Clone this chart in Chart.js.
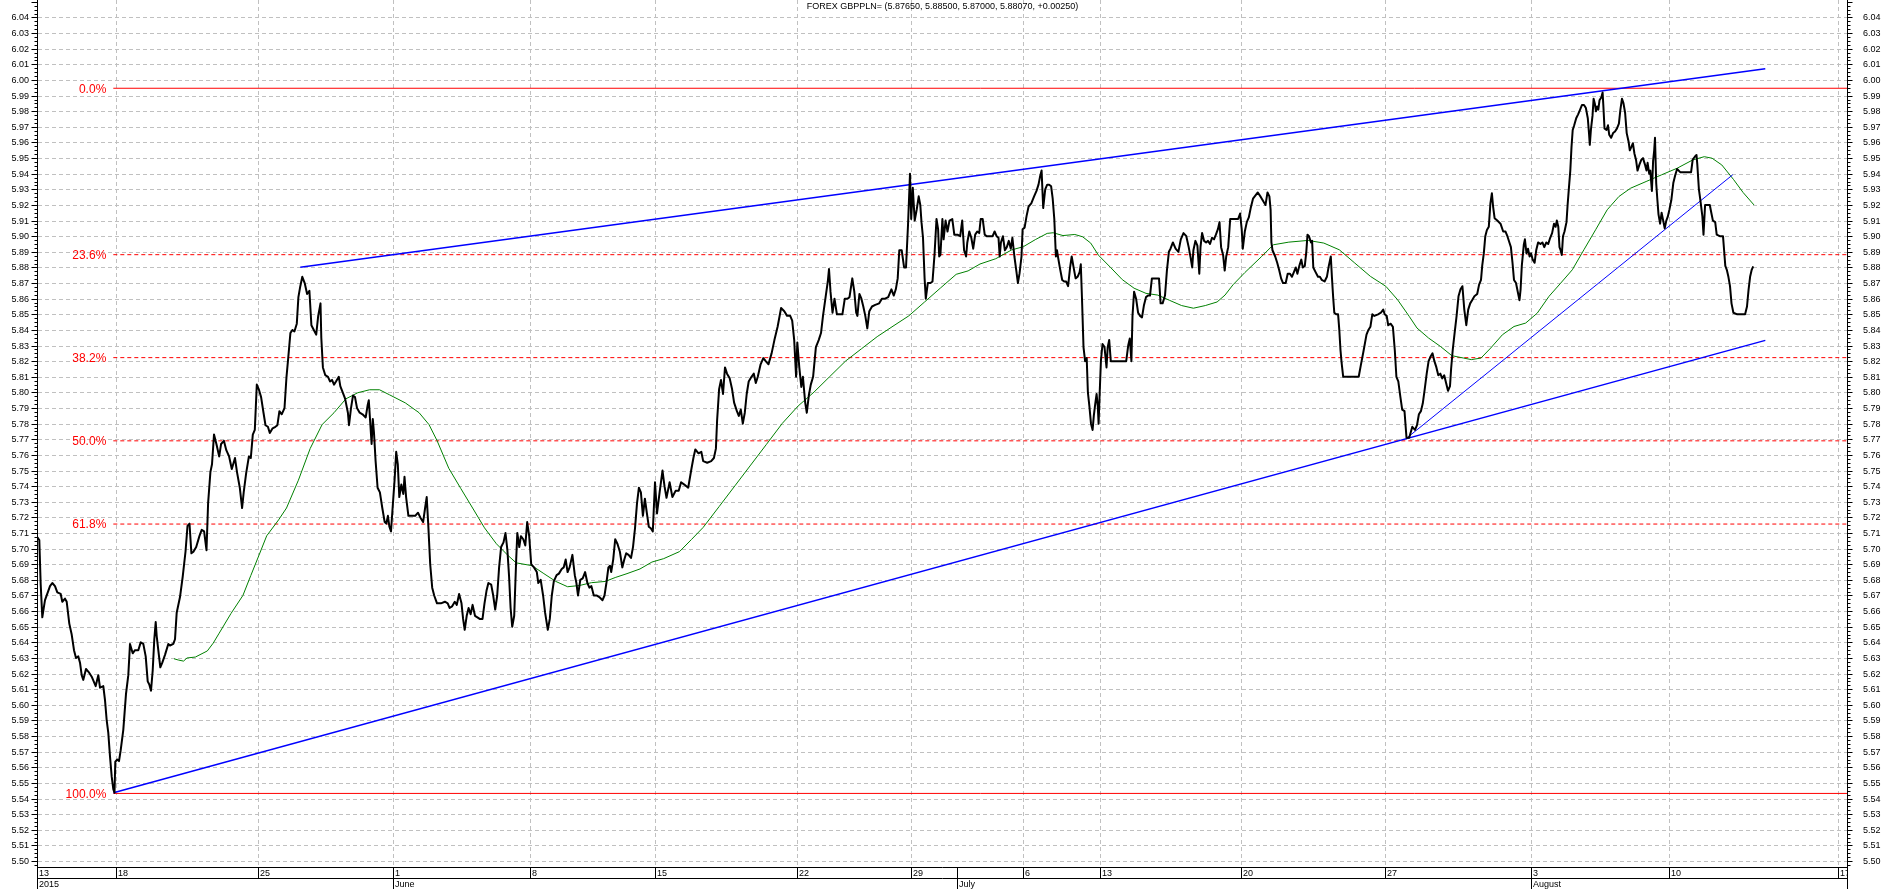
<!DOCTYPE html>
<html>
<head>
<meta charset="utf-8">
<script src="https://cdn.jsdelivr.net/npm/chart.js@4.4.1/dist/chart.umd.min.js"></script>
<style>
  html, body { margin: 0; padding: 0; background: #fff; }
  canvas { display: block; }
</style>
</head>
<body>
<canvas id="chart" width="1883" height="889"></canvas>
<script>
// ---- data (x = bar number from the first bar, y = GBPPLN rate) ----
const title = 'FOREX GBPPLN= (5.87650, 5.88500, 5.87000, 5.88070, +0.00250)';

const priceBars = [
  0, 2.3, 3.7, 5.3, 7, 8, 13, 15.3, 18, 20.3, 23.7, 25.3, 28, 29.7, 32.3, 34.7, 37, 39, 41.3, 43,
  44.7, 46.3, 49, 51.7, 54.7, 58.7, 61.3, 63, 66.3, 68, 69.7, 71.3, 73, 74.7, 76.3, 77.5, 78.3, 80.3, 82, 83.7,
  86.3, 89, 91.3, 93, 95.7, 98, 101.3, 103.7, 106.3, 108.7, 110.7, 112.3, 114, 115.7, 117.3, 118.7, 119.7, 121.3, 123.3, 125.3,
  128, 131.3, 133, 136.3, 138, 139.7, 143, 145.7, 148.5, 150.5, 152.5, 154.4, 156.4, 159.2, 162.4, 164.7, 167.1, 169.5, 171.1, 173.4,
  175, 177, 179.4, 182.2, 184.1, 186.9, 189.3, 192.1, 194.8, 198, 200, 202.8, 205.1, 206.7, 209.1, 211.9, 213.8, 215.8, 217.8, 219.8,
  221.8, 224.1, 226.5, 228.5, 230.9, 232.8, 235.6, 238.4, 240.4, 242.4, 244.7, 247.5, 249.5, 251.5, 253.4, 255.4, 257.4, 259.8, 261.4, 263.3,
  265.3, 267.7, 270.1, 272.4, 274.4, 276.8, 279.2, 281.2, 283.5, 284.3, 285.9, 288.3, 291, 293, 295, 297, 299, 301.8, 303.3, 305.7,
  308.1, 310.9, 312, 314, 316, 318, 320, 322.7, 325.5, 328.7, 330.7, 331.8, 333.4, 334.6, 335.8, 337, 338.6, 340.6, 342.9, 345.3,
  347.7, 349.3, 350.9, 352.4, 354, 355.6, 357.6, 359.2, 360.8, 362.3, 364.3, 366.3, 367.5, 369.1, 371.4, 374.2, 378.2, 381, 383.3, 386.1,
  388.1, 389.7, 391.2, 393.2, 395.2, 397.2, 400, 403.9, 407.9, 410.7, 412.6, 415, 417.8, 419.8, 422.1, 424.5, 426.1, 427.7, 429.7, 431.6,
  433.6, 435.6, 438, 440.4, 442.7, 445.5, 447.5, 449.5, 451.4, 454.2, 456.2, 458.2, 460.2, 462.1, 464.1, 466.5, 468.5, 470.4, 472, 473.6,
  475.2, 477.2, 479.2, 480.3, 482.3, 483.9, 486.3, 488.3, 490.2, 492.2, 494.2, 497, 499.8, 501.3, 503.7, 506.1, 508.1, 510.8, 512.8, 514.8,
  516.8, 519.6, 521.9, 524.7, 526.7, 528.7, 530.6, 532.6, 535.4, 537.8, 539.4, 541, 543.3, 545.7, 548.1, 550.4, 552.4, 554.4, 556.8, 559.5,
  562.3, 565.5, 567.5, 569.4, 571.4, 573, 574.2, 576.2, 578.2, 580.5, 582.9, 585.3, 587.3, 589.2, 591.6, 594, 596, 598, 600, 601.9,
  603.9, 605.9, 607.9, 609.8, 611.8, 613.8, 615.8, 618, 620, 622.8, 625.5, 627.5, 629.5, 632.6, 635.4, 638.6, 641.7, 644.1, 647.3, 651.2,
  654.4, 656.4, 658.3, 661.5, 664.3, 666.2, 670.2, 674.2, 676.9, 678.9, 680.1, 682.1, 684, 686, 688, 690, 692.7, 695.1, 697.1, 699.9,
  701.8, 703.8, 705.8, 707.8, 709.7, 711.7, 714.5, 716.8, 718.8, 720.8, 723.6, 726.3, 728.7, 731.5, 734.6, 737.4, 740.6, 744.1, 747.3, 750.1,
  753.2, 755.2, 757.2, 759.1, 760.3, 762.3, 764.3, 765.9, 768.2, 769.8, 771.8, 773.8, 776.1, 778.9, 781.7, 784, 786, 788.8, 790.8, 792,
  793.5, 795.5, 797.5, 799.9, 802.6, 805.4, 807.8, 810.5, 812.5, 815.3, 817.3, 819.2, 820.4, 822.4, 824.4, 826.3, 828.3, 830.3, 832.3, 835,
  838.2, 842.2, 844.9, 848.1, 851.2, 854.4, 856.8, 858.8, 860.7, 862.3, 864.7, 867.1, 869, 871, 873, 874.2, 875.8, 877.7, 879.7, 881.7,
  883.3, 884.5, 886, 887.6, 888.8, 890.8, 893.5, 895.5, 897.5, 899.5, 901.1, 902.2, 903.4, 905.4, 906.6, 908.6, 910.5, 912.5, 915.3, 917.3,
  920.4, 923.2, 925.2, 927.1, 929.1, 930.3, 932.3, 934.3, 936.2, 938.2, 940.2, 942.2, 943.7, 945.7, 947.7, 949.7, 952.8, 955.6, 957.6, 959.6,
  961.5, 962.7, 963.9, 965.9, 967.9, 969.8, 971.8, 973.8, 975.4, 977.4, 979.3, 980.9, 982.5, 984.5, 985.6, 987.6, 989.6, 991.6, 994.3, 997.1,
  999.5, 1001.5, 1003, 1004.6, 1006.2, 1008.2, 1010.2, 1012.2, 1014.1, 1015.7, 1017.3, 1018.9, 1020, 1021.2, 1022.8, 1025.2, 1027.2, 1029.1, 1031.1, 1033.1,
  1034.7, 1036.6, 1038.6, 1040.6, 1042.6, 1043.8, 1045, 1046.5, 1048.1, 1049.7, 1050.9, 1052.4, 1054, 1055.6, 1056.8, 1058.4, 1059.6, 1060.8, 1061.6, 1062.7,
  1063.9, 1065.5, 1067.5, 1069.5, 1070.7, 1072.2, 1073.8, 1077.4, 1081, 1085, 1089.2, 1091.2, 1092.8, 1094.4, 1095.5, 1097.1, 1099.1, 1101.1, 1103.1, 1105,
  1107, 1109, 1111, 1113, 1114.9, 1116.9, 1119.5, 1122, 1123.6, 1125.6, 1128, 1129.9, 1131.9, 1133.5, 1135.9, 1138.6, 1141.4, 1143.8, 1146.5, 1149.3,
  1151.7, 1153.7, 1155.2, 1156.4, 1158.4, 1160.4, 1162.3, 1163.5, 1165.1, 1167.1, 1169.1, 1171, 1173, 1175, 1177, 1178.9, 1180.9, 1182.5, 1184.1, 1186.1,
  1187.7, 1189.2, 1191.2, 1193.2, 1196, 1199, 1201.1, 1203.1, 1204.7, 1205.8, 1207.8, 1209.8, 1211.8, 1213.7, 1216, 1220.8, 1223.9, 1226.6, 1228.5, 1230.5,
  1232.4, 1233.6, 1234.4, 1235.5, 1238.2, 1240.2, 1242.1, 1244.1, 1246, 1248.7, 1250.7, 1253, 1254.9, 1256.9, 1258.8, 1260.4, 1262.3, 1264.3, 1265.8, 1267.8,
  1269.3, 1270.5, 1272, 1274, 1275.1, 1276.3, 1278.2, 1281, 1282.9, 1284.8, 1287.6, 1289.9, 1291.8, 1293.8, 1294.9, 1296.1, 1297.3, 1299.2, 1301.1, 1302.3,
  1303.5, 1304.6, 1306.2, 1310, 1315, 1321.7, 1323.7, 1326.4, 1329.5, 1331.4, 1333.4, 1335.3, 1337.3, 1341.1, 1343.9, 1346.2, 1347.7, 1349.7, 1351.2, 1353.6,
  1355.9, 1357.8, 1359.4, 1361.3, 1363.3, 1365.2, 1367.5, 1369.5, 1372.2, 1375.3, 1378, 1380, 1381.9, 1383.9, 1385.8, 1387.7, 1389.7, 1391.6, 1393.6, 1395.5,
  1397.4, 1399.4, 1401.3, 1403.3, 1405.2, 1407.2, 1409.1, 1411, 1413, 1414.1, 1415.7, 1417.6, 1419.6, 1421.5, 1423.5, 1425.4, 1427.3, 1429.3, 1431.2, 1433.2,
  1435.1, 1437.4, 1440.2, 1442.1, 1444, 1445.2, 1446.8, 1448.3, 1449.9, 1451.8, 1453.4, 1454.9, 1456.1, 1457.6, 1460.3, 1463.5, 1466.2, 1468.5, 1470.4, 1472.4,
  1473.9, 1475.5, 1477, 1479, 1480.9, 1482.5, 1483.6, 1484.8, 1486.8, 1487.9, 1489.5, 1491, 1492.6, 1494.1, 1495.7, 1497.6, 1499.2, 1501.1, 1503.4, 1505.4,
  1507.3, 1509.3, 1511.2, 1513.2, 1515.1, 1517, 1518.6, 1519.8, 1521.3, 1522.5, 1523.6, 1524.8, 1526, 1527.5, 1529.5, 1530.6, 1531.8, 1533.3, 1534.5, 1535.7,
  1537.2, 1539.2, 1541.1, 1543.1, 1545, 1547, 1548.9, 1550.8, 1552, 1552.8, 1553.9, 1555.5, 1556.6, 1557.8, 1559, 1560.1, 1561.3, 1562.5, 1564.4, 1565.6,
  1566.4, 1567.5, 1569.5, 1571, 1572.2, 1574.1, 1576.1, 1578, 1580, 1581.9, 1583.4, 1585, 1586.5, 1588.1, 1589.7, 1591.6, 1592.8, 1594.3, 1595.9, 1597.4,
  1599, 1600.5, 1602.5, 1604.4, 1606, 1607.9, 1609.5, 1610.6, 1612.2, 1613.3, 1614.9, 1616.1, 1617.2, 1618, 1619.2, 1620.4, 1621.5, 1623.1, 1624.6, 1626.2,
  1627.7, 1629.3, 1630.8, 1632.4, 1634.3, 1636.3, 1638.2, 1640.1, 1643.2, 1647.1, 1651, 1654.1, 1655.7, 1658, 1659.5, 1660.3, 1661.9, 1663.4, 1665.4, 1666.5,
  1668.1, 1669.6, 1672.8, 1674.3, 1675.9, 1678.2, 1679.7, 1682.8, 1686, 1687.1, 1688.3, 1689.8, 1691.4, 1693, 1694.5, 1696.4, 1700.3, 1704.2, 1708.1, 1710,
  1711.6, 1713.1, 1714.7, 1716.2
];
const priceValues = [
  5.7076, 5.7055, 5.677, 5.656, 5.663, 5.667, 5.676, 5.678, 5.676, 5.672, 5.671, 5.666, 5.668, 5.666, 5.652, 5.645, 5.635, 5.630, 5.631, 5.627,
  5.619, 5.616, 5.623, 5.621, 5.618, 5.612, 5.619, 5.611, 5.612, 5.603, 5.590, 5.582, 5.567, 5.554, 5.546, 5.5437, 5.5636, 5.565, 5.564, 5.571,
  5.584, 5.607, 5.619, 5.639, 5.633, 5.635, 5.635, 5.640, 5.639, 5.631, 5.615, 5.613, 5.609, 5.622, 5.642, 5.653, 5.644, 5.635, 5.624, 5.627,
  5.632, 5.639, 5.638, 5.639, 5.642, 5.659, 5.669, 5.682, 5.698, 5.7145, 5.716, 5.697, 5.698, 5.701, 5.708, 5.712, 5.711, 5.699, 5.729, 5.749,
  5.754, 5.773, 5.767, 5.759, 5.767, 5.769, 5.763, 5.759, 5.751, 5.758, 5.749, 5.739, 5.726, 5.736, 5.748, 5.759, 5.758, 5.773, 5.776, 5.805,
  5.802, 5.797, 5.787, 5.779, 5.778, 5.774, 5.777, 5.778, 5.779, 5.788, 5.786, 5.790, 5.810, 5.824, 5.838, 5.840, 5.839, 5.844, 5.861, 5.868,
  5.874, 5.870, 5.863, 5.865, 5.843, 5.840, 5.837, 5.849, 5.857, 5.835, 5.816, 5.811, 5.810, 5.807, 5.808, 5.805, 5.807, 5.810, 5.804, 5.800,
  5.796, 5.787, 5.779, 5.790, 5.798, 5.797, 5.790, 5.787, 5.786, 5.784, 5.792, 5.795, 5.779, 5.767, 5.783, 5.774, 5.756, 5.739, 5.736, 5.726,
  5.717, 5.716, 5.721, 5.714, 5.711, 5.726, 5.744, 5.762, 5.754, 5.733, 5.741, 5.735, 5.746, 5.733, 5.721, 5.721, 5.721, 5.723, 5.720, 5.717,
  5.726, 5.733, 5.716, 5.690, 5.675, 5.670, 5.665, 5.665, 5.666, 5.665, 5.662, 5.663, 5.666, 5.664, 5.671, 5.665, 5.655, 5.648, 5.657, 5.662,
  5.658, 5.664, 5.657, 5.656, 5.655, 5.655, 5.665, 5.673, 5.678, 5.677, 5.670, 5.661, 5.670, 5.688, 5.701, 5.704, 5.710, 5.699, 5.683, 5.662,
  5.650, 5.657, 5.693, 5.710, 5.701, 5.708, 5.706, 5.702, 5.717, 5.708, 5.690, 5.688, 5.685, 5.678, 5.680, 5.670, 5.659, 5.648, 5.655, 5.670,
  5.679, 5.683, 5.684, 5.687, 5.688, 5.693, 5.685, 5.688, 5.696, 5.683, 5.678, 5.670, 5.680, 5.681, 5.685, 5.678, 5.675, 5.676, 5.670, 5.670,
  5.669, 5.667, 5.670, 5.678, 5.688, 5.689, 5.685, 5.693, 5.706, 5.703, 5.698, 5.688, 5.693, 5.697, 5.696, 5.694, 5.701, 5.713, 5.729, 5.739,
  5.736, 5.721, 5.732, 5.723, 5.714, 5.713, 5.711, 5.7425, 5.7225, 5.737, 5.750, 5.740, 5.7325, 5.7425, 5.733, 5.737, 5.737, 5.7425, 5.741, 5.739,
  5.751, 5.758, 5.7635, 5.761, 5.762, 5.756, 5.755, 5.756, 5.758, 5.764, 5.782, 5.802, 5.808, 5.799, 5.816, 5.812, 5.809, 5.802, 5.7935, 5.788,
  5.785, 5.789, 5.780, 5.787, 5.799, 5.807, 5.810, 5.812, 5.806, 5.810, 5.818, 5.822, 5.820, 5.818, 5.825, 5.8335, 5.842, 5.854, 5.852, 5.849,
  5.849, 5.846, 5.8335, 5.810, 5.832, 5.816, 5.8035, 5.810, 5.7935, 5.787, 5.798, 5.805, 5.810, 5.829, 5.8335, 5.838, 5.849, 5.862, 5.871, 5.879,
  5.8645, 5.851, 5.860, 5.850, 5.850, 5.850, 5.860, 5.860, 5.861, 5.873, 5.8645, 5.851, 5.849, 5.863, 5.860, 5.855, 5.849, 5.841, 5.852, 5.855,
  5.856, 5.857, 5.860, 5.860, 5.861, 5.866, 5.862, 5.866, 5.873, 5.891, 5.891, 5.880, 5.880, 5.907, 5.940, 5.911, 5.931, 5.910, 5.917, 5.9255,
  5.920, 5.909, 5.899, 5.873, 5.860, 5.870, 5.870, 5.871, 5.888, 5.911, 5.9045, 5.887, 5.888, 5.911, 5.898, 5.910, 5.903, 5.910, 5.911, 5.901,
  5.901, 5.900, 5.910, 5.891, 5.887, 5.896, 5.903, 5.899, 5.892, 5.901, 5.903, 5.902, 5.911, 5.911, 5.901, 5.900, 5.900, 5.900, 5.903, 5.900,
  5.899, 5.887, 5.896, 5.900, 5.891, 5.893, 5.897, 5.892, 5.899, 5.887, 5.878, 5.870, 5.876, 5.887, 5.9045, 5.9055, 5.913, 5.919, 5.921, 5.9255,
  5.929, 5.933, 5.938, 5.942, 5.918, 5.930, 5.933, 5.933, 5.932, 5.924, 5.911, 5.887, 5.891, 5.886, 5.880, 5.872, 5.871, 5.871, 5.868, 5.880,
  5.887, 5.880, 5.873, 5.874, 5.877, 5.882, 5.860, 5.829, 5.820, 5.822, 5.800, 5.791, 5.780, 5.776, 5.785, 5.7935, 5.799, 5.791, 5.780, 5.800,
  5.820, 5.831, 5.829, 5.816, 5.829, 5.8335, 5.820, 5.820, 5.820, 5.820, 5.820, 5.830, 5.8345, 5.820, 5.849, 5.8645, 5.860, 5.851, 5.849, 5.848,
  5.856, 5.861, 5.862, 5.862, 5.873, 5.873, 5.873, 5.873, 5.857, 5.857, 5.862, 5.878, 5.890, 5.892, 5.896, 5.892, 5.890, 5.898, 5.902, 5.900,
  5.893, 5.886, 5.880, 5.891, 5.897, 5.894, 5.876, 5.893, 5.902, 5.897, 5.896, 5.897, 5.895, 5.899, 5.898, 5.901, 5.9045, 5.909, 5.893, 5.888,
  5.878, 5.887, 5.893, 5.911, 5.911, 5.911, 5.911, 5.9145, 5.9045, 5.892, 5.903, 5.909, 5.912, 5.918, 5.924, 5.928, 5.925, 5.922, 5.920, 5.928,
  5.9255, 5.917, 5.896, 5.891, 5.887, 5.883, 5.8785, 5.873, 5.870, 5.870, 5.876, 5.876, 5.874, 5.877, 5.880, 5.876, 5.881, 5.885, 5.880, 5.881,
  5.890, 5.901, 5.900, 5.896, 5.897, 5.880, 5.8775, 5.874, 5.874, 5.872, 5.871, 5.874, 5.881, 5.887, 5.874, 5.8615, 5.851, 5.850, 5.850, 5.840,
  5.827, 5.819, 5.810, 5.810, 5.810, 5.810, 5.817, 5.826, 5.837, 5.840, 5.842, 5.850, 5.849, 5.850, 5.851, 5.853, 5.850, 5.849, 5.843, 5.844,
  5.842, 5.827, 5.810, 5.807, 5.7975, 5.789, 5.788, 5.771, 5.771, 5.778, 5.776, 5.779, 5.786, 5.788, 5.793, 5.802, 5.812, 5.820, 5.823, 5.825,
  5.820, 5.816, 5.811, 5.812, 5.809, 5.811, 5.806, 5.801, 5.804, 5.815, 5.827, 5.838, 5.849, 5.8615, 5.866, 5.868, 5.853, 5.843, 5.853, 5.857,
  5.859, 5.8615, 5.863, 5.869, 5.872, 5.881, 5.889, 5.900, 5.904, 5.906, 5.921, 5.9275, 5.919, 5.9115, 5.910, 5.908, 5.903, 5.903, 5.900, 5.896,
  5.893, 5.883, 5.872, 5.870, 5.864, 5.859, 5.866, 5.881, 5.8945, 5.898, 5.889, 5.892, 5.887, 5.889, 5.885, 5.883, 5.891, 5.896, 5.895, 5.896,
  5.893, 5.896, 5.895, 5.899, 5.902, 5.908, 5.906, 5.910, 5.906, 5.893, 5.891, 5.888, 5.900, 5.903, 5.909, 5.920, 5.930, 5.942, 5.957, 5.968,
  5.971, 5.9755, 5.978, 5.981, 5.984, 5.984, 5.982, 5.9755, 5.966, 5.9585, 5.968, 5.977, 5.988, 5.985, 5.980, 5.983, 5.981, 5.987, 5.989, 5.992,
  5.983, 5.969, 5.968, 5.971, 5.965, 5.963, 5.966, 5.967, 5.969, 5.972, 5.981, 5.988, 5.985, 5.979, 5.966, 5.9605, 5.955, 5.957, 5.9595, 5.953,
  5.949, 5.942, 5.946, 5.949, 5.950, 5.946, 5.942, 5.947, 5.940, 5.942, 5.929, 5.948, 5.955, 5.963, 5.934, 5.923, 5.914, 5.908, 5.915, 5.910,
  5.905, 5.910, 5.9125, 5.917, 5.923, 5.934, 5.939, 5.943, 5.941, 5.941, 5.941, 5.941, 5.949, 5.951, 5.952, 5.946, 5.930, 5.923, 5.9125, 5.901,
  5.920, 5.920, 5.920, 5.915, 5.910, 5.909, 5.901, 5.900, 5.900, 5.891, 5.881, 5.8785, 5.874, 5.868, 5.857, 5.851, 5.850, 5.850, 5.850, 5.855,
  5.866, 5.874, 5.8785, 5.8807
];

// moving average (green)
const maBars = [
  137, 141.3, 146.5, 150, 158.4, 170.3, 176.2, 182.2, 194, 205.9, 213.8, 221.8, 229.7, 241.6, 249.5, 261.4, 273.2, 285.1, 297, 308.9,
  320.8, 332.6, 342.5, 352.4, 368.3, 382.1, 392, 400, 411.8, 423.7, 435.6, 447.5, 459.4, 471.2, 479.2, 495, 506.9, 518.8, 530.6, 542.5,
  554.4, 568.3, 578.2, 590, 603, 614.9, 626.7, 642.5, 654.4, 666.2, 682.1, 697.9, 713.7, 729.5, 745.3, 761.1, 777, 792.7, 808.6, 824.4,
  840.2, 856, 871.8, 887.6, 903.4, 919.2, 931.1, 943, 958.8, 974.6, 986.4, 998.3, 1010.2, 1016.1, 1026, 1037.8, 1045.7, 1053.7, 1061.5, 1073.4,
  1085.3, 1097.1, 1109, 1120.8, 1132.7, 1144.6, 1156.4, 1168.3, 1180.1, 1188, 1196, 1207.8, 1224.6, 1236.3, 1251.8, 1271.2, 1286.8, 1302.3, 1317.8, 1333.4,
  1348.9, 1360.6, 1372.2, 1380, 1391.6, 1403.3, 1414.9, 1426.6, 1434.3, 1444, 1453.7, 1465.4, 1477, 1488.7, 1500.3, 1512, 1523.6, 1535.3, 1546.9, 1558.6,
  1570.2, 1581.9, 1593.5, 1609.1, 1624.6, 1640.1, 1655.7, 1667.3, 1675.1, 1684.8, 1696.4, 1706.2, 1717
];
const maValues = [
  5.6295, 5.6287, 5.628, 5.630, 5.6306, 5.6345, 5.6395, 5.6459, 5.6585, 5.670, 5.6828, 5.6955, 5.7082, 5.7184, 5.726, 5.7438, 5.7641, 5.7794, 5.787, 5.7959,
  5.7998, 5.8017, 5.8017, 5.7985, 5.7933, 5.787, 5.7794, 5.7692, 5.7514, 5.7386, 5.726, 5.7133, 5.7031, 5.6955, 5.6909, 5.6891, 5.684, 5.679, 5.6756, 5.6764,
  5.6782, 5.679, 5.6815, 5.684, 5.687, 5.6914, 5.6936, 5.6981, 5.7058, 5.7136, 5.7269, 5.7402, 5.7535, 5.7668, 5.7802, 5.7913, 5.8002, 5.8101, 5.8201, 5.8279,
  5.8357, 5.8424, 5.849, 5.8579, 5.8668, 5.8756, 5.8778, 5.8822, 5.8856, 5.8912, 5.8933, 5.8978, 5.9018, 5.9022, 5.9004, 5.9011, 5.8996, 5.8956, 5.8878, 5.8801,
  5.8722, 5.8667, 5.8634, 5.8623, 5.8589, 5.8556, 5.8539, 5.8556, 5.8579, 5.8623, 5.8689, 5.8767, 5.887, 5.8945, 5.8962, 5.8973, 5.8956, 5.8913, 5.8828, 5.8743,
  5.8679, 5.8593, 5.8487, 5.8412, 5.8348, 5.8295, 5.8235, 5.822, 5.821, 5.822, 5.8284, 5.8369, 5.8422, 5.8444, 5.8508, 5.8615, 5.8699, 5.8785, 5.8913, 5.9041,
  5.9169, 5.9254, 5.9307, 5.935, 5.9393, 5.9435, 5.9488, 5.9509, 5.9499, 5.9456, 5.9364, 5.9279, 5.920
];

// trend lines: [startBar, startValue, endBar, endValue]
const upperTrend = [263.3, 5.8801, 1728.3, 6.0072];
const lowerTrend = [76.5, 5.5437, 1728.3, 5.8333];
const steepTrend = [1370, 5.7709, 1695.7, 5.9393];

// fibonacci retracement
const fibHigh = 5.9947;
const fibLow = 5.5433;
const fibStartBar = 76.3;
const fibRatios = [0, 0.236, 0.382, 0.5, 0.618, 1];
const fibLabels = ['0.0%', '23.6%', '38.2%', '50.0%', '61.8%', '100.0%'];

// axes
const barMax = 1811;
const yMin = 5.4962;
const yMax = 6.0512;
const weekBars = [0, 79, 221, 356, 493, 618, 760, 873.5, 986, 1063, 1203.6, 1348.3, 1494, 1631.7, 1800.7];
const weekLabels = ['13', '18', '25', '1', '8', '15', '22', '29', '6', '13', '20', '27', '3', '10', '17'];
const monthBars = [0, 356, 920.4, 1494];
const monthLabels = ['2015', 'June', 'July', 'August'];
const yLabelValues = [];
for (let i = 0; i <= 54; i++) yLabelValues.push(+(5.50 + i * 0.01).toFixed(2));

const FONT = "Arial, 'Liberation Sans', sans-serif";

function pts(xs, ys) { return xs.map((x, i) => ({ x, y: ys[i] })); }
function seg(t) { return [{ x: t[0], y: t[1] }, { x: t[2], y: t[3] }]; }

const fibDatasets = fibRatios.map((r, i) => {
  const v = fibHigh - r * (fibHigh - fibLow);
  const solid = (r === 0 || r === 1);
  return {
    label: fibLabels[i],
    data: [{ x: fibStartBar, y: v }, { x: barMax, y: v }],
    borderColor: '#ff0000',
    borderWidth: 1,
    borderDash: solid ? [] : [4, 3],
    order: 5
  };
});

const axesPlugin = {
  id: 'axesPlugin',
  beforeDatasetsDraw(chart) {
    const { ctx, chartArea: a, scales: { x, y } } = chart;
    ctx.save();
    ctx.strokeStyle = '#c0c0c0';
    ctx.lineWidth = 1;
    ctx.setLineDash([4, 3]);
    yLabelValues.forEach(v => {
      const py = Math.round(y.getPixelForValue(v)) + 0.5;
      ctx.beginPath();
      ctx.moveTo(a.left + 1, py);
      ctx.lineTo(a.right, py);
      ctx.stroke();
    });
    weekBars.forEach(b => {
      if (b === 0) return;
      const px = Math.round(x.getPixelForValue(b)) + 0.5;
      ctx.beginPath();
      ctx.moveTo(px, a.top);
      ctx.lineTo(px, a.bottom);
      ctx.stroke();
    });
    ctx.restore();
  },
  afterDatasetsDraw(chart) {
    const { ctx, chartArea: a, scales: { x, y } } = chart;
    const W = chart.width, H = chart.height;
    ctx.save();
    ctx.setLineDash([]);
    ctx.strokeStyle = '#000';
    ctx.lineWidth = 1;
    const L = a.left + 0.5, R = a.right - 0.5, B = a.bottom + 0.5, B2 = a.bottom + 11.5;

    // axis lines and bottom rows
    ctx.beginPath();
    ctx.moveTo(L, 0); ctx.lineTo(L, H);
    ctx.moveTo(R, 0); ctx.lineTo(R, H);
    ctx.moveTo(L, B); ctx.lineTo(R, B);
    ctx.moveTo(L, B2); ctx.lineTo(R, B2);
    ctx.stroke();

    // y ticks
    ctx.beginPath();
    for (let i = 0; i * 0.0025 + 5.4975 <= yMax; i++) {
      const v = 5.4975 + i * 0.0025;
      if (v < yMin) continue;
      const major = Math.abs(v * 100 - Math.round(v * 100)) < 1e-6;
      const py = Math.round(y.getPixelForValue(v)) + 0.5;
      const len = major ? 6 : 3;
      ctx.moveTo(L - len, py); ctx.lineTo(L, py);
      ctx.moveTo(R, py); ctx.lineTo(R + (major ? 5 : 3), py);
    }
    ctx.stroke();

    ctx.fillStyle = '#000';
    ctx.font = '9px ' + FONT;
    ctx.textBaseline = 'middle';
    yLabelValues.forEach(v => {
      const py = y.getPixelForValue(v) + 0.5;
      ctx.textAlign = 'right';
      ctx.fillText(v.toFixed(2), a.left - 8, py);
      ctx.textAlign = 'left';
      ctx.fillText(v.toFixed(2), a.right + 15, py);
    });

    // x axis rows
    ctx.save();
    ctx.beginPath();
    ctx.rect(a.left, a.bottom, a.right - a.left - 1, H - a.bottom);
    ctx.clip();
    ctx.beginPath();
    weekBars.forEach(b => {
      const px = Math.round(x.getPixelForValue(b)) + 0.5;
      ctx.moveTo(px, B); ctx.lineTo(px, B2);
    });
    monthBars.forEach(b => {
      const px = Math.round(x.getPixelForValue(b)) + 0.5;
      ctx.moveTo(px, B); ctx.lineTo(px, H);
    });
    ctx.stroke();
    ctx.textAlign = 'left';
    weekBars.forEach((b, i) => {
      ctx.fillText(weekLabels[i], Math.round(x.getPixelForValue(b)) + 2, a.bottom + 6.5);
    });
    monthBars.forEach((b, i) => {
      ctx.fillText(monthLabels[i], Math.round(x.getPixelForValue(b)) + 2, a.bottom + 17.5);
    });
    ctx.restore();

    // fib labels
    ctx.fillStyle = '#ff0000';
    ctx.font = '12px ' + FONT;
    ctx.textAlign = 'right';
    fibRatios.forEach((r, i) => {
      const v = fibHigh - r * (fibHigh - fibLow);
      ctx.fillText(fibLabels[i], x.getPixelForValue(fibStartBar) - 7, y.getPixelForValue(v) + 1);
    });

    // title
    ctx.fillStyle = '#000';
    ctx.font = '9px ' + FONT;
    ctx.textAlign = 'center';
    ctx.fillText(title, (a.left + a.right) / 2, 6.5);
    ctx.restore();
  }
};

new Chart(document.getElementById('chart').getContext('2d'), {
  type: 'line',
  data: {
    datasets: [
      { label: 'GBPPLN', data: pts(priceBars, priceValues), borderColor: '#000', borderWidth: 2, order: 0 },
      { label: 'Upper', data: seg(upperTrend), borderColor: '#0000ff', borderWidth: 1.5, order: 1 },
      { label: 'Lower', data: seg(lowerTrend), borderColor: '#0000ff', borderWidth: 1.5, order: 1 },
      { label: 'Steep', data: seg(steepTrend), borderColor: '#0000ff', borderWidth: 1, order: 1 },
      { label: 'MA', data: pts(maBars, maValues), borderColor: '#008000', borderWidth: 1, order: 2 },
      ...fibDatasets
    ]
  },
  options: {
    responsive: false,
    animation: false,
    devicePixelRatio: 1,
    layout: { padding: { left: 37, right: 35, top: 0, bottom: 22 } },
    elements: { point: { radius: 0 }, line: { tension: 0, borderJoinStyle: 'round', fill: false } },
    plugins: { legend: { display: false }, tooltip: { enabled: false } },
    scales: {
      x: { type: 'linear', min: 0, max: barMax, display: false },
      y: { type: 'linear', min: yMin, max: yMax, display: false }
    }
  },
  plugins: [axesPlugin]
});
</script>
</body>
</html>
